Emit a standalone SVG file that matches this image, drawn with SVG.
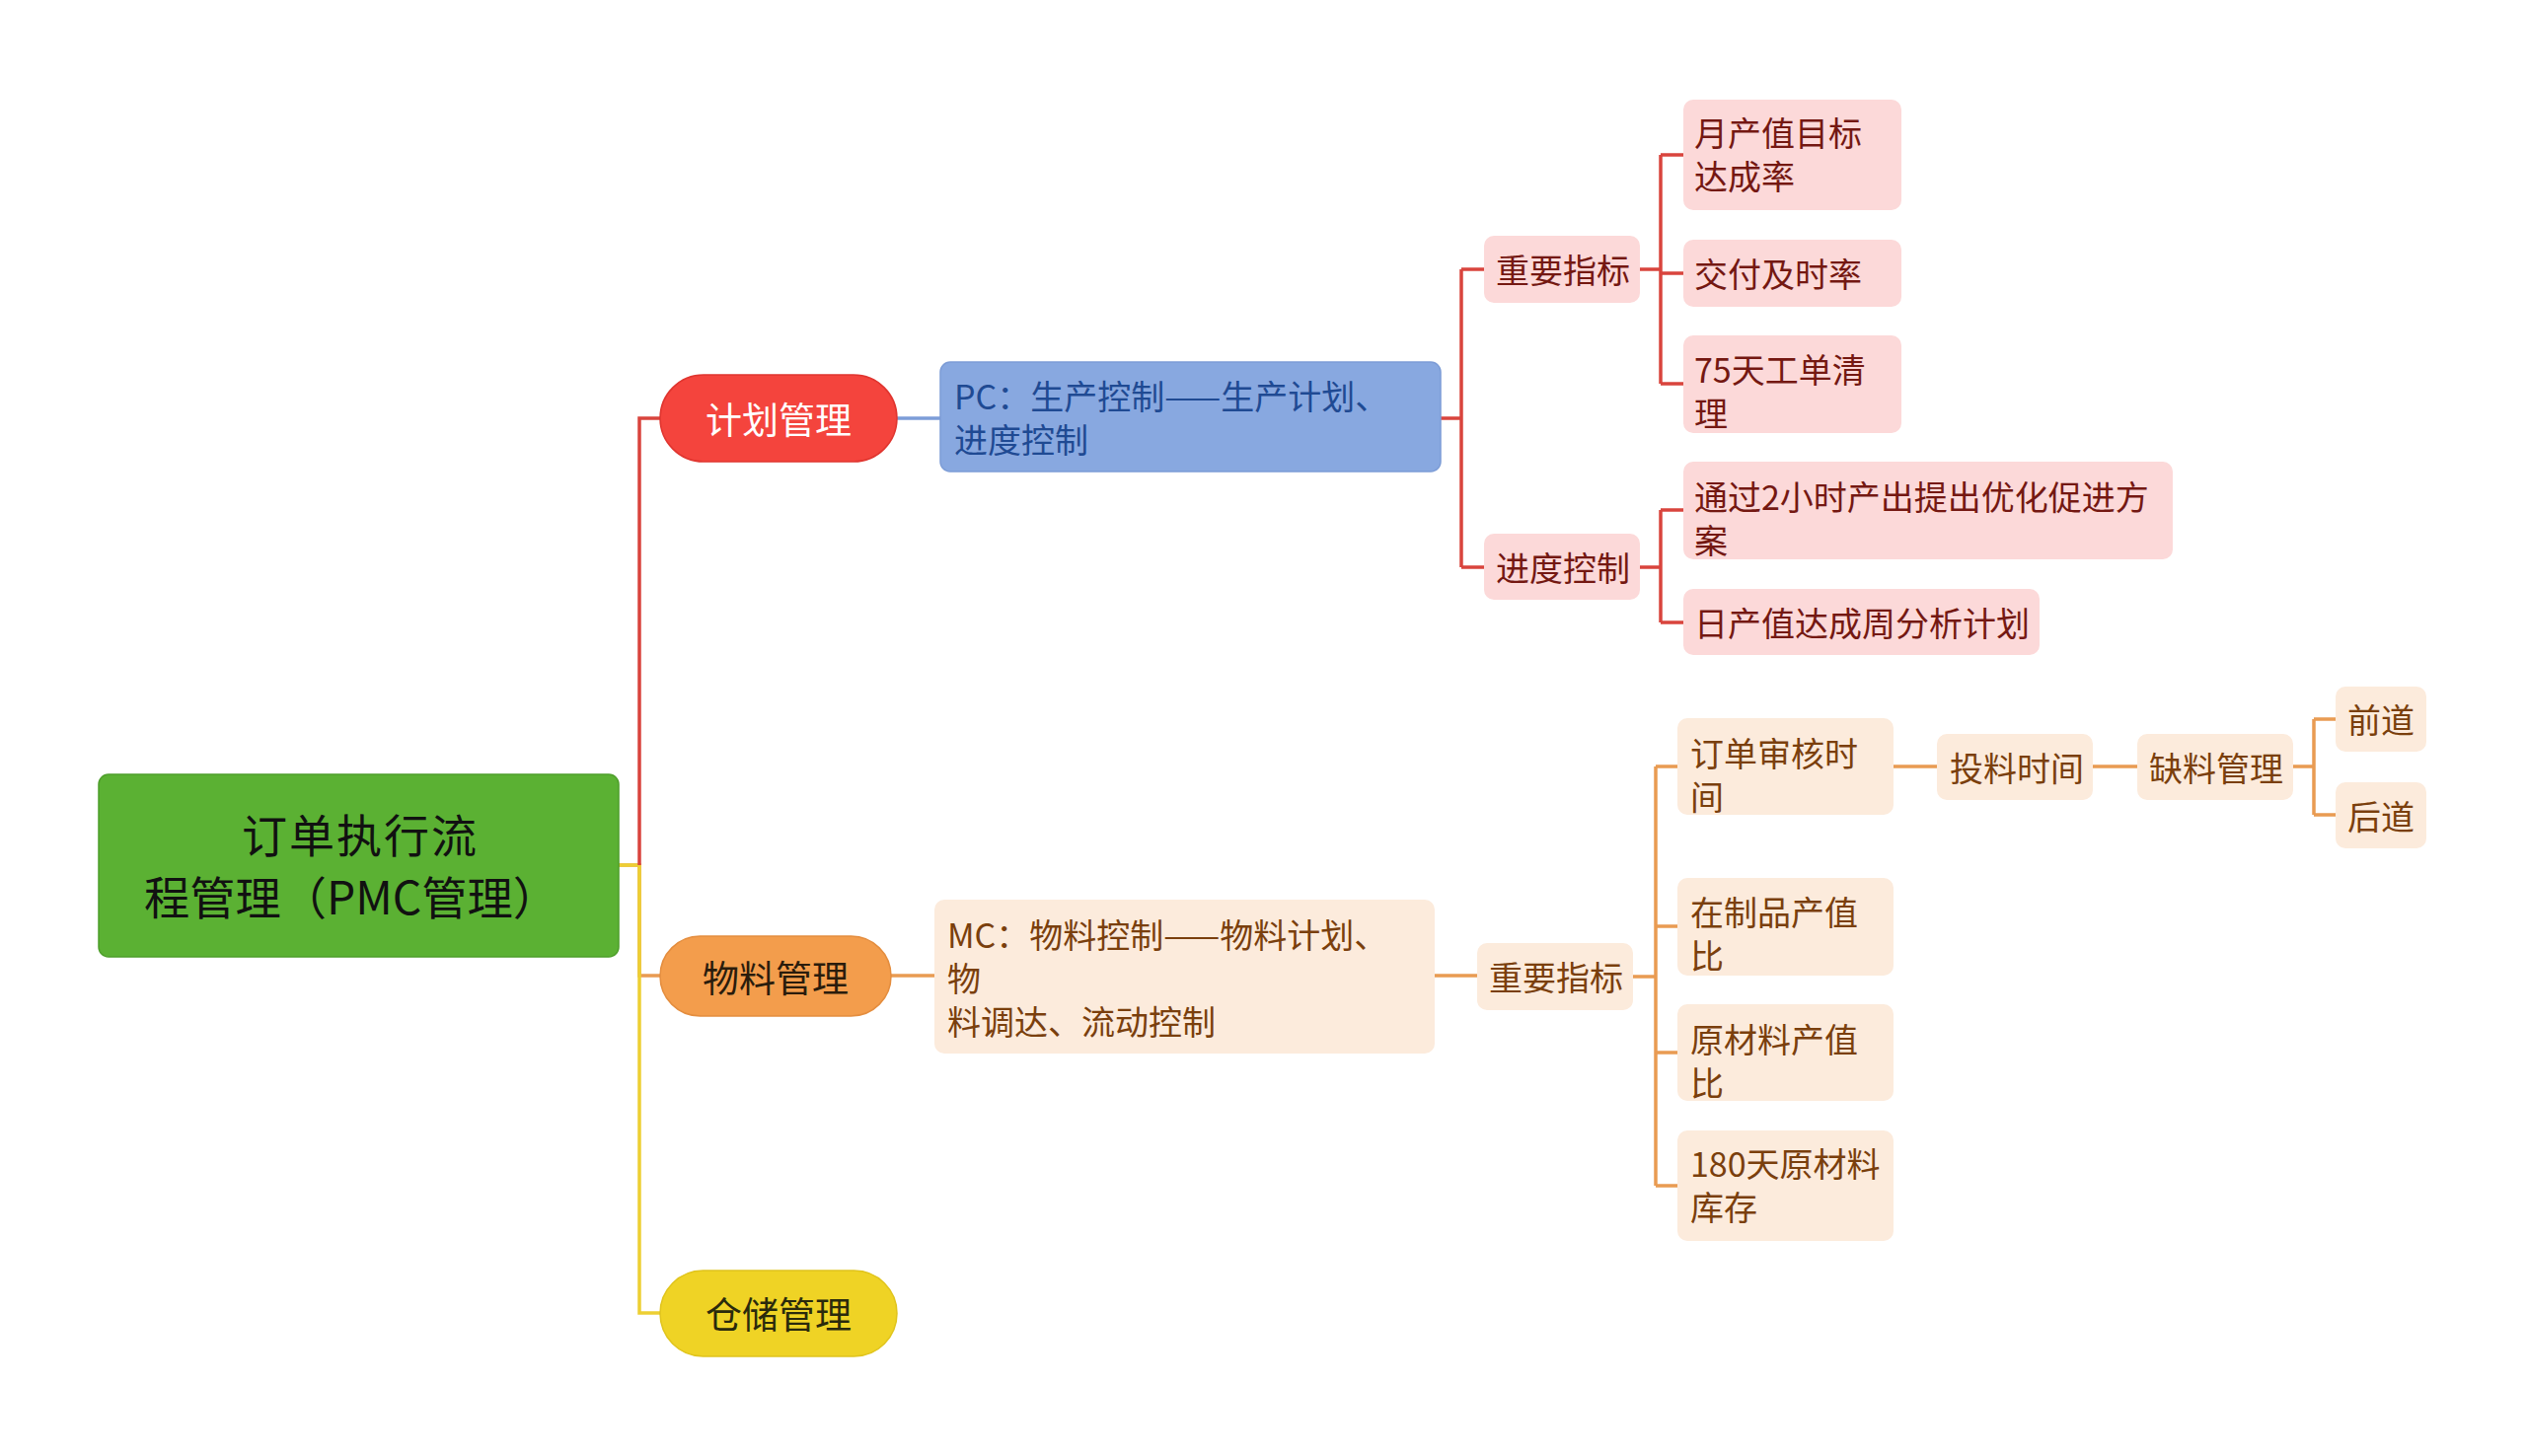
<svg xmlns="http://www.w3.org/2000/svg" width="2560" height="1476" viewBox="0 0 2560 1476">
<style>
text{font-family:"Noto Sans CJK SC","Noto Sans",sans-serif;}
.ln{fill:none;stroke-width:3.5;stroke-linejoin:miter;stroke-linecap:butt}
.red{stroke:#D9443D}
.org{stroke:#E99B52}
.yel{stroke:#EDCF33}
.blu{stroke:#7C9DD8}
.pk rect{fill:#FCD9D9}
.pk text{fill:#741812;font-size:34px}
.pc rect{fill:#FCEBDC}
.pc text{fill:#7A3F0D;font-size:34px}
.pill text{font-size:37px;text-anchor:middle}
</style>
<rect width="2560" height="1476" fill="#FFFFFF"/>
<g id="connectors">
<path class="ln org" d="M627,877 H648 V989 H669"/>
<path class="ln yel" d="M627,877 H648 V1331 H669"/>
<path class="ln red" d="M648,877 V424 H669"/>
<path class="ln blu" d="M909,424 H953"/>
<path class="ln red" d="M1460,424 H1481 M1481,273 V575 M1481,273 H1504 M1481,575 H1504"/>
<path class="ln red" d="M1662,273 H1683 M1683,157 V389 M1683,157 H1706 M1683,277 H1706 M1683,389 H1706"/>
<path class="ln red" d="M1662,575 H1683 M1683,517 V631 M1683,517 H1706 M1683,631 H1706"/>
<path class="ln org" d="M903,989 H947"/>
<path class="ln org" d="M1454,989 H1497"/>
<path class="ln org" d="M1655,990 H1678 M1678,777 V1202 M1678,777 H1700 M1678,939 H1700 M1678,1067 H1700 M1678,1202 H1700"/>
<path class="ln org" d="M1919,777 H1963"/>
<path class="ln org" d="M2121,777 H2166"/>
<path class="ln org" d="M2324,777 H2345 M2345,729 V826 M2345,729 H2367 M2345,826 H2367"/>
</g>
<g id="root">
<rect x="100" y="785" width="527" height="185" rx="10" fill="#5BB133" stroke="#4E9F2B" stroke-width="1.5"/>
<text x="364" y="864" font-size="46" fill="#111111" text-anchor="middle" textLength="238" lengthAdjust="spacing">订单执行流</text>
<text x="356" y="927" font-size="46" fill="#111111" text-anchor="middle" textLength="420" lengthAdjust="spacingAndGlyphs">程管理（PMC管理）</text>
</g>
<g id="n-jihua" class="pill">
<rect x="669" y="380" width="240" height="88" rx="44" fill="#F4443D" stroke="#E0352F" stroke-width="1.5"/>
<text x="789" y="440" fill="#FFFFFF">计划管理</text>
</g>
<g id="n-wuliao" class="pill">
<rect x="669" y="949" width="234" height="81" rx="40.5" fill="#F39D4C" stroke="#E48D3E" stroke-width="1.5"/>
<text x="786" y="1006" fill="#2A1C0C">物料管理</text>
</g>
<g id="n-cangchu" class="pill">
<rect x="669" y="1288" width="240" height="87" rx="43.5" fill="#EFD325" stroke="#E0C41C" stroke-width="1.5"/>
<text x="789" y="1347" fill="#2A2A0C">仓储管理</text>
</g>
<g id="n-pc">
<rect x="953" y="367" width="507" height="111" rx="10" fill="#88A8E0" stroke="#7C9CD6" stroke-width="1.5"/>
<text x="967" y="415" font-size="34" fill="#1F4A93">PC：生产控制——生产计划、</text>
<text x="967" y="459" font-size="34" fill="#1F4A93">进度控制</text>
</g>
<g id="n-zhongyao1" class="pk">
<rect x="1504" y="239" width="158" height="68" rx="10"/>
<text x="1516" y="287">重要指标</text>
</g>
<g id="n-jindu" class="pk">
<rect x="1504" y="541" width="158" height="67" rx="10"/>
<text x="1516" y="589">进度控制</text>
</g>
<g id="n-yuechan" class="pk">
<rect x="1706" y="101" width="221" height="112" rx="10"/>
<text x="1717" y="148">月产值目标</text>
<text x="1717" y="192">达成率</text>
</g>
<g id="n-jiaofu" class="pk">
<rect x="1706" y="243" width="221" height="68" rx="10"/>
<text x="1717" y="291">交付及时率</text>
</g>
<g id="n-75tian" class="pk">
<rect x="1706" y="340" width="221" height="99" rx="10"/>
<text x="1717" y="388">75天工单清</text>
<text x="1717" y="432">理</text>
</g>
<g id="n-tongguo" class="pk">
<rect x="1706" y="468" width="496" height="99" rx="10"/>
<text x="1717" y="517">通过2小时产出提出优化促进方</text>
<text x="1717" y="561">案</text>
</g>
<g id="n-richan" class="pk">
<rect x="1706" y="597" width="361" height="67" rx="10"/>
<text x="1717" y="645">日产值达成周分析计划</text>
</g>
<g id="n-mc" class="pc">
<rect x="947" y="912" width="507" height="156" rx="10"/>
<text x="960" y="961">MC：物料控制——物料计划、</text>
<text x="960" y="1005">物</text>
<text x="960" y="1049">料调达、流动控制</text>
</g>
<g id="n-zhongyao2" class="pc">
<rect x="1497" y="956" width="158" height="68" rx="10"/>
<text x="1509" y="1004">重要指标</text>
</g>
<g id="n-dingdan" class="pc">
<rect x="1700" y="728" width="219" height="98" rx="10"/>
<text x="1713" y="777">订单审核时</text>
<text x="1713" y="821">间</text>
</g>
<g id="n-zaizhi" class="pc">
<rect x="1700" y="890" width="219" height="99" rx="10"/>
<text x="1713" y="938">在制品产值</text>
<text x="1713" y="982">比</text>
</g>
<g id="n-yuancai" class="pc">
<rect x="1700" y="1018" width="219" height="98" rx="10"/>
<text x="1713" y="1067">原材料产值</text>
<text x="1713" y="1111">比</text>
</g>
<g id="n-180tian" class="pc">
<rect x="1700" y="1146" width="219" height="112" rx="10"/>
<text x="1713" y="1193">180天原材料</text>
<text x="1713" y="1237">库存</text>
</g>
<g id="n-touliao" class="pc">
<rect x="1963" y="744" width="158" height="67" rx="10"/>
<text x="1976" y="792">投料时间</text>
</g>
<g id="n-queliao" class="pc">
<rect x="2166" y="744" width="158" height="67" rx="10"/>
<text x="2178" y="792">缺料管理</text>
</g>
<g id="n-qiandao" class="pc">
<rect x="2367" y="696" width="92" height="66" rx="10"/>
<text x="2379" y="743">前道</text>
</g>
<g id="n-houdao" class="pc">
<rect x="2367" y="793" width="92" height="67" rx="10"/>
<text x="2379" y="841">后道</text>
</g>
</svg>
